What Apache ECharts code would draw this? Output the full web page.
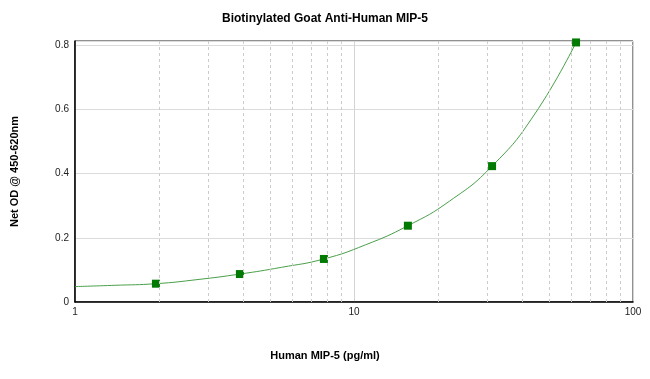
<!DOCTYPE html>
<html>
<head>
<meta charset="utf-8">
<script src="https://cdn.jsdelivr.net/npm/echarts@6/dist/echarts.min.js"></script>
<style>html,body{margin:0;padding:0;background:#fff}#c{width:650px;height:379px}</style>
</head>
<body>
<div id="c"></div>
<script>
const titleText = 'Biotinylated Goat Anti-Human MIP-5';
const xAxisName = 'Human MIP-5 (pg/ml)';
const yAxisName = 'Net OD @ 450-620nm';
// standard concentrations (pg/ml) and net OD
const concentrations = [1.95, 3.9, 7.8, 15.6, 31.25, 62.5];
const odValues = [0.057, 0.087, 0.134, 0.2375, 0.423, 0.808];
// fitted curve
const curveX = [1, 1.39, 1.95, 2.76, 3.9, 5.5, 7.8, 11, 15.6, 22, 31.25, 44.2, 62.5];
const curveY = [0.048, 0.052, 0.057, 0.07, 0.087, 0.108, 0.134, 0.178, 0.2375, 0.314, 0.423, 0.582, 0.808];
// minor vertical grid positions
const minorGrid = [2,3,4,5,6,7,8,9,20,30,40,50,60,70,80,90];
const yTicks = [0, 0.2, 0.4, 0.6, 0.8];

const chart = echarts.init(document.getElementById('c'), null, {renderer: 'canvas'});
const font = 'Arial, "Liberation Sans", sans-serif';
chart.setOption({
  animation: false,
  backgroundColor: '#fff',
  title: [
    {text: titleText, left: 'center', top: 8,
     textStyle: {fontFamily: font, fontSize: 12, fontWeight: 'bold', color: '#000'}},
    {text: xAxisName, left: 'center', top: 345,
     textStyle: {fontFamily: font, fontSize: 11, fontWeight: 'bold', color: '#000'}}
  ],
  grid: {left: 75, right: 17, top: 41, bottom: 77, show: true, borderColor: '#222', borderWidth: 1},
  xAxis: {
    type: 'log', logBase: 10, min: 1, max: 100,
    axisLine: {show: true, lineStyle: {color: '#000', width: 1.5}},
    axisTick: {show: false},
    axisLabel: {fontFamily: font, fontSize: 10, color: '#222', margin: 5},
    splitLine: {show: true, lineStyle: {color: '#d4d4d4', width: 1}}
  },
  yAxis: {
    type: 'value', min: 0, max: 0.8125, interval: 0.2,
    name: yAxisName, nameLocation: 'middle', nameGap: 55, nameRotate: 90,
    nameTextStyle: {fontFamily: font, fontSize: 11, fontWeight: 'bold', color: '#000'},
    axisLine: {show: true, lineStyle: {color: '#000', width: 1.5}},
    axisTick: {show: false},
    axisLabel: {fontFamily: font, fontSize: 10, color: '#222', margin: 6, showMaxLabel: false,
      formatter: v => (yTicks.indexOf(Math.round(v*10)/10) >= 0 && Math.abs(v - Math.round(v*10)/10) < 1e-6) ? String(Math.round(v*10)/10) : ''},
    splitLine: {show: true, lineStyle: {color: '#dcdcdc', width: 1}}
  },
  series: [
    {
      type: 'line', data: curveX.map((x, i) => [x, curveY[i]]),
      smooth: 0.5, showSymbol: false, symbol: 'none',
      lineStyle: {color: '#4aa04a', width: 1},
      markLine: {
        silent: true, symbol: 'none', label: {show: false},
        lineStyle: {color: '#cccccc', type: [3, 3], width: 1},
        data: minorGrid.map(v => ({xAxis: v}))
      },
      z: 2
    },
    {
      type: 'scatter', data: concentrations.map((x, i) => [x, odValues[i]]),
      symbol: 'rect', symbolSize: 8,
      itemStyle: {color: '#007a00', opacity: 1}, z: 3
    }
  ]
});
</script>
</body>
</html>
